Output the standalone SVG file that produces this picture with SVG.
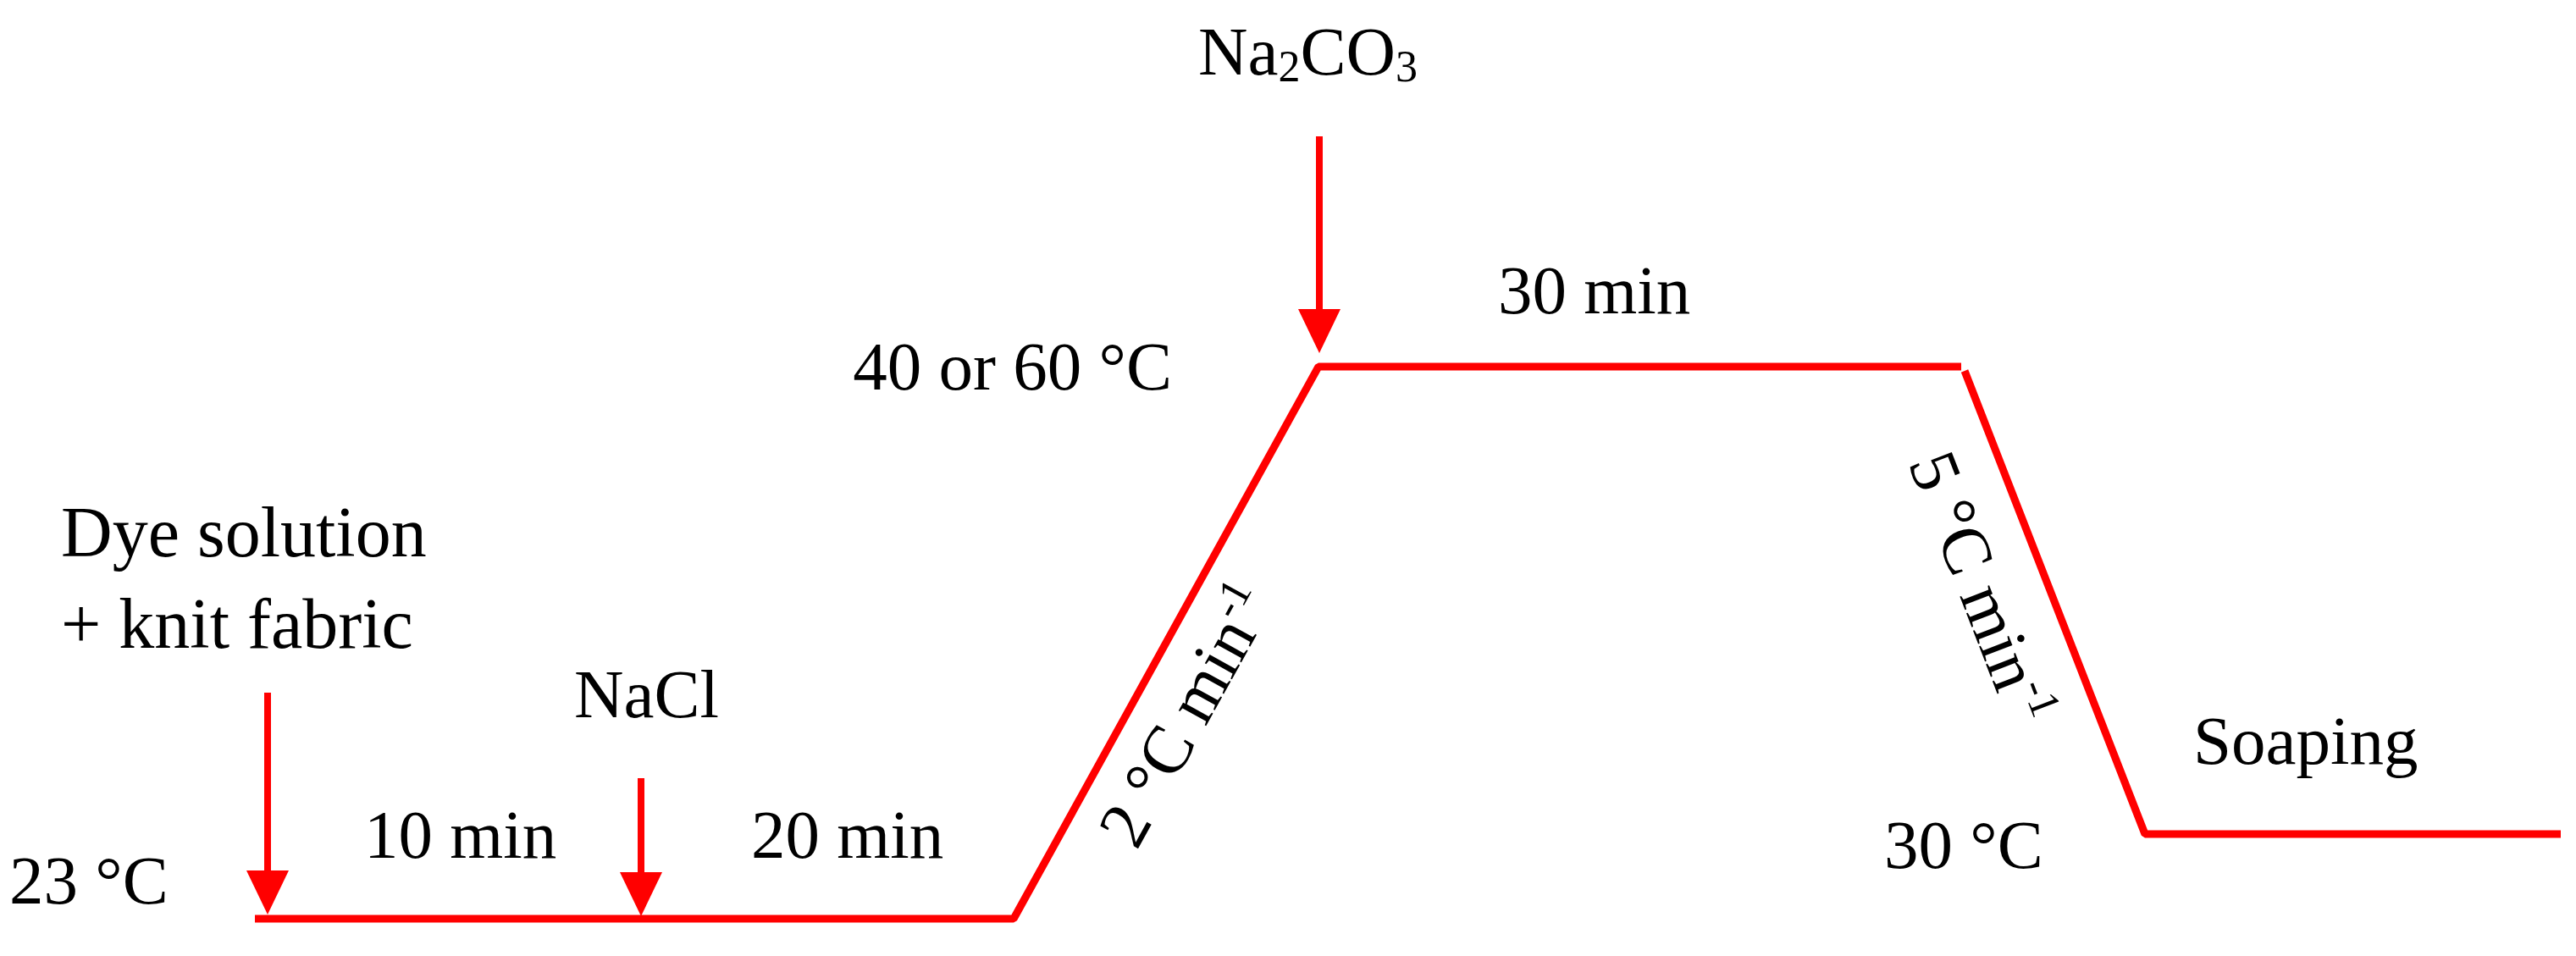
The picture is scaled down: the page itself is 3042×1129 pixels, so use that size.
<svg xmlns="http://www.w3.org/2000/svg" width="3042" height="1129" viewBox="0 0 3042 1129">
<style>
  text { font-family: "Liberation Serif", "Times New Roman", serif; font-size: 81px; fill: #000; }
  .prof { fill: none; stroke: #FF0000; stroke-width: 9; stroke-linejoin: bevel; }
  .arr { stroke: #FF0000; stroke-width: 8; marker-end: url(#head); }
  .sup { font-size: 52px; }
  .big { font-size: 84px; }
</style>
<defs>
  <marker id="head" viewBox="0 0 52 50" refX="8" refY="25" markerWidth="52" markerHeight="50" markerUnits="userSpaceOnUse" orient="auto">
    <path d="M0,0 L52,25 L0,50 Z" fill="#FF0000"/>
  </marker>
</defs>
<rect width="3042" height="1129" fill="#FFFFFF"/>
<g id="connectors">
  <polyline class="prof" points="301,1085 1197,1085 1557,433 2316,433"/>
  <polyline class="prof" points="2320,438 2533,985 3024,985"/>
  <line class="arr" x1="316" y1="818" x2="316" y2="1036"/>
  <line class="arr" x1="757" y1="919" x2="757" y2="1038"/>
  <line class="arr" x1="1558" y1="161" x2="1558" y2="373"/>
</g>
<g id="dye">
  <text class="big" x="72" y="657">Dye solution</text>
  <text class="big" x="72" y="765">+ knit fabric</text>
</g>
<g id="start-temp"><text x="11" y="1067">23 °C</text></g>
<g id="nacl"><text x="678" y="847">NaCl</text></g>
<g id="t10"><text x="430" y="1013">10 min</text></g>
<g id="t20"><text x="887" y="1013">20 min</text></g>
<g id="na2co3"><text x="1415" y="88">Na<tspan class="sup" dy="8">2</tspan><tspan dy="-8">CO</tspan><tspan class="sup" dy="8">3</tspan></text></g>
<g id="top-temp"><text x="1384" y="460" text-anchor="end">40 or 60 °C</text></g>
<g id="t30"><text x="1769" y="370">30 min</text></g>
<g id="rise"><text transform="translate(1424,858) rotate(-61)" text-anchor="middle">2 °C min<tspan class="sup" dy="-30">-1</tspan></text></g>
<g id="drop"><text transform="translate(2314,704) rotate(68.8)" text-anchor="middle">5 °C min<tspan class="sup" dy="-30">-1</tspan></text></g>
<g id="end-temp"><text x="2225" y="1025">30 °C</text></g>
<g id="soaping"><text x="2590" y="902">Soaping</text></g>
</svg>
